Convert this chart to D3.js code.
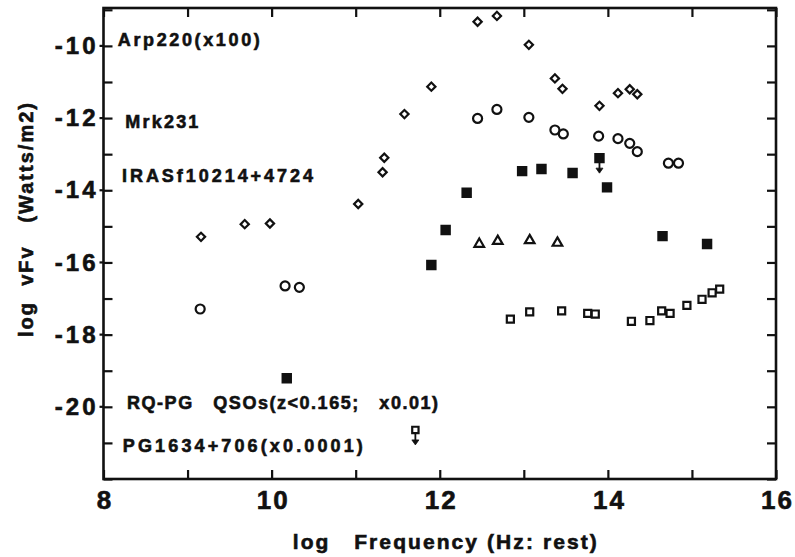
<!DOCTYPE html>
<html>
<head>
<meta charset="utf-8">
<script src="https://cdn.jsdelivr.net/npm/d3@7"></script>
<style>
  body { margin: 0; background: #fff; }
  svg { display: block; }
  text { font-family: "Liberation Sans", Arial, Helvetica, sans-serif; font-weight: bold;
         fill: #111; stroke: #111; stroke-width: 0.6px; white-space: pre; }
</style>
</head>
<body>
<svg id="chart" width="795" height="557"></svg>
<script>
// SED points: [log nu, log nuFnu]
const arp220 = [
  [9.16, -15.29], [9.68, -14.94], [9.98, -14.92], [11.03, -14.38],
  [11.32, -13.50], [11.34, -13.10], [11.58, -11.89], [11.90, -11.13],
  [12.45, -9.33], [12.68, -9.17], [13.06, -9.97], [13.37, -10.90],
  [13.46, -11.19], [13.90, -11.66], [14.12, -11.31], [14.26, -11.20],
  [14.35, -11.34]
];
const mrk231 = [
  [9.15, -17.29], [10.16, -16.65], [10.33, -16.69], [12.45, -12.01],
  [12.68, -11.76], [13.06, -11.98], [13.37, -12.33], [13.47, -12.44],
  [13.89, -12.50], [14.12, -12.57], [14.26, -12.70], [14.35, -12.93],
  [14.72, -13.25], [14.84, -13.25]
];
const iras = [
  [10.18, -19.21], [11.90, -16.07], [12.07, -15.10], [12.32, -14.07],
  [12.98, -13.47], [13.21, -13.41], [13.58, -13.52], [13.99, -13.92],
  [14.65, -15.27], [15.18, -15.49]
];
const irasLimits = [[13.90, -13.11]];
const rqpg = [[12.47, -15.49], [12.69, -15.41], [13.07, -15.39], [13.40, -15.46]];
const pg1634 = [
  [12.84, -17.57], [13.07, -17.37], [13.45, -17.34], [13.76, -17.41],
  [13.85, -17.43], [14.28, -17.63], [14.50, -17.61], [14.64, -17.34],
  [14.74, -17.41], [14.94, -17.19], [15.12, -17.02], [15.24, -16.84],
  [15.33, -16.74]
];
const pg1634Limits = [[11.71, -20.64]];

const labels = [
  { text: "Arp220(x100)", x: 8.17, y: -10.0 },
  { text: "Mrk231", x: 8.26, y: -12.27 },
  { text: "IRASf10214+4724", x: 8.22, y: -13.77 },
  { text: "RQ-PG   QSOs(z<0.165;   x0.01)", x: 8.28, y: -20.05 },
  { text: "PG1634+706(x0.0001)", x: 8.23, y: -21.25 }
];
const labelWidths = [142, 73, 191, 311, 240];

const xTicks = d3.range(8, 17);
const yTicks = d3.range(-22, -8);

const svg = d3.select("#chart");
const margin = { top: 8, right: 19, bottom: 78, left: 103.5 };
const width = 795 - margin.left - margin.right;
const height = 557 - margin.top - margin.bottom;

const x = d3.scaleLinear().domain([8, 16]).range([0, width]);
const y = d3.scaleLinear().domain([-22, -8.95]).range([height, 0]);

const chart = svg.append("g").attr("transform", `translate(${margin.left},${margin.top})`);

// Axes, ticks pointing inward
const bottom = chart.append("g")
  .attr("transform", `translate(0,${height})`)
  .call(d3.axisBottom(x).tickValues(xTicks).tickSize(-9).tickPadding(12)
    .tickFormat(d => d % 2 === 0 ? `${d}` : ""));
bottom.selectAll("text").attr("font-size", 26).attr("letter-spacing", 2).attr("dx", 1);

chart.append("g")
  .call(d3.axisTop(x).tickValues(xTicks).tickSize(-9).tickFormat(""));

const left = chart.append("g")
  .call(d3.axisLeft(y).tickValues(yTicks).tickSize(-9).tickPadding(8)
    .tickFormat(d => (d % 2 === 0 && d > -22) ? `${d}` : ""));
left.selectAll("text").attr("font-size", 24).attr("letter-spacing", 3).attr("dx", 3);

chart.append("g")
  .attr("transform", `translate(${width},0)`)
  .call(d3.axisRight(y).tickValues(yTicks).tickSize(-9).tickFormat(""));

// small outward stubs on labelled left ticks
chart.append("g").selectAll("line")
  .data(yTicks.filter(d => d % 2 === 0 && d > -22))
  .join("line")
  .attr("x1", -4).attr("x2", 0)
  .attr("y1", d => y(d)).attr("y2", d => y(d))
  .attr("stroke", "#111").attr("stroke-width", 2.2);

chart.selectAll(".domain").remove();
chart.selectAll(".tick line").attr("stroke", "#111").attr("stroke-width", 2.2);

chart.append("rect")
  .attr("width", width).attr("height", height)
  .attr("fill", "none").attr("stroke", "#111").attr("stroke-width", 2.6);

// Axis titles
svg.append("text")
  .attr("x", margin.left + width / 2 + 5)
  .attr("y", 549)
  .attr("text-anchor", "middle")
  .attr("font-size", 21)
  .attr("textLength", 304)
  .attr("lengthAdjust", "spacing")
  .text("log   Frequency (Hz: rest)");

svg.append("text")
  .attr("transform", "translate(33,220) rotate(-90)")
  .attr("text-anchor", "middle")
  .attr("font-size", 20)
  .attr("textLength", 234)
  .attr("lengthAdjust", "spacing")
  .text("log  vFv   (Watts/m2)");

// Series labels
chart.append("g").selectAll("text")
  .data(labels)
  .join("text")
  .attr("x", d => x(d.x))
  .attr("y", d => y(d.y))
  .attr("font-size", 18)
  .attr("textLength", (d, i) => labelWidths[i])
  .attr("lengthAdjust", "spacing")
  .text(d => d.text);

// Markers
const marks = chart.append("g").attr("stroke", "#111").attr("stroke-width", 2.2);

const drawSymbols = (data, type, size, fill, rotate = 0) => {
  marks.append("g").selectAll("path")
    .data(data)
    .join("path")
    .attr("d", d3.symbol().type(type).size(size))
    .attr("transform", d => `translate(${x(d[0])},${y(d[1])}) rotate(${rotate})`)
    .attr("fill", fill);
};

drawSymbols(arp220, d3.symbolSquare, 34, "#fff", 45);
drawSymbols(mrk231, d3.symbolCircle, 64, "#fff");
drawSymbols(rqpg, d3.symbolTriangle, 40, "#fff");
drawSymbols(pg1634, d3.symbolSquare, 50, "#fff");
drawSymbols(pg1634Limits, d3.symbolSquare, 40, "#fff");
drawSymbols(iras, d3.symbolSquare, 68, "#111");
drawSymbols(irasLimits, d3.symbolSquare, 68, "#111");

// Upper-limit arrows
const arrows = chart.append("g").attr("stroke", "#111").attr("fill", "#111");
[...irasLimits, ...pg1634Limits].forEach(d => {
  const px = x(d[0]), py = y(d[1]);
  arrows.append("line")
    .attr("x1", px).attr("x2", px)
    .attr("y1", py + 4).attr("y2", py + 12)
    .attr("stroke-width", 1.8);
  arrows.append("path")
    .attr("d", `M${px - 3.5},${py + 10} L${px + 3.5},${py + 10} L${px},${py + 15} Z`)
    .attr("stroke-width", 0.8);
});
</script>
</body>
</html>
